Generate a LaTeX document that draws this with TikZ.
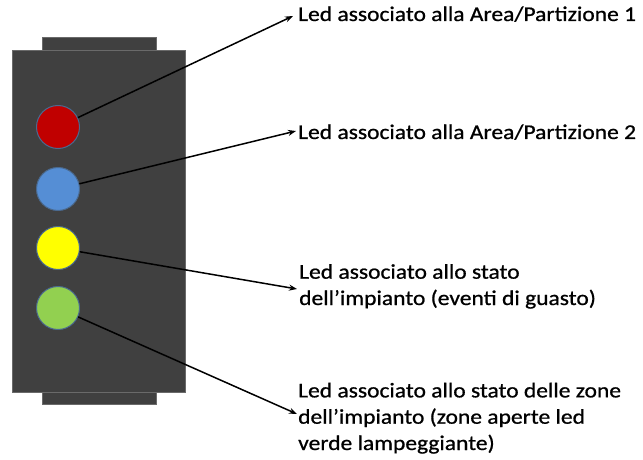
\documentclass[tikz,border=0pt]{standalone}
\usepackage{fontspec}
\setmainfont{Carlito}[FakeStretch=1.12,FakeBold=0.8]
\usetikzlibrary{arrows.meta}
\definecolor{bodyc}{HTML}{404040}
\definecolor{bodyb}{HTML}{6A6A6A}
\definecolor{ledb}{HTML}{4A6A90}
\definecolor{ledr}{HTML}{C00000}
\definecolor{ledbl}{HTML}{558ED5}
\definecolor{ledy}{HTML}{FFFF00}
\definecolor{ledg}{HTML}{92D050}
\tikzset{
  ledc/.style={circle, draw=ledb, line width=1pt, minimum size=43pt, inner sep=0pt},
  lbl/.style={anchor=base west, inner sep=0pt, align=left, font=\fontsize{21pt}{26.3pt}\selectfont, text=black},
  ptr/.style={draw=black, line width=1.5pt, -{Stealth[length=8pt,width=6pt]}},
  casing/.style={fill=bodyc, draw=bodyb, line width=0.8pt}
}
\begin{document}
\begin{tikzpicture}[x=1pt,y=1pt]
\useasboundingbox (0,0) rectangle (643,-460);
% tabs and body
\node[casing, minimum width=114pt, minimum height=14pt, inner sep=0pt] (tabt) at (99,-44) {};
\node[casing, minimum width=114pt, minimum height=14pt, inner sep=0pt] (tabb) at (99,-397) {};
\node[casing, minimum width=173pt, minimum height=342pt, inner sep=0pt] (body) at (98.5,-221) {};
% leds
\node[ledc, fill=ledr] (led1) at (58,-127) {};
\node[ledc, fill=ledbl] (led2) at (58,-189) {};
\node[ledc, fill=ledy] (led3) at (58,-248) {};
\node[ledc, fill=ledg] (led4) at (58,-308) {};
% labels (base = baseline of last line)
\node[lbl] (t1) at (298,-21) {Led associato alla Area/Partizione 1};
\node[lbl] (t2) at (298,-139) {Led associato alla Area/Partizione 2};
\node[lbl] (t3) at (299,-305) {Led associato allo stato\\dell’impianto (eventi di guasto)};
\node[lbl] (t4) at (298,-450) {Led associato allo stato delle zone\\dell’impianto (zone aperte led\\verde lampeggiante)};
% arrow tips
\coordinate (p1) at (293,-16);
\coordinate (p2) at (296,-131);
\coordinate (p3) at (297,-289);
\coordinate (p4) at (297,-414);
\draw[ptr] (led1) -- (p1);
\draw[ptr] (led2) -- (p2);
\draw[ptr] (led3) -- (p3);
\draw[ptr] (led4) -- (p4);
\end{tikzpicture}
\end{document}
